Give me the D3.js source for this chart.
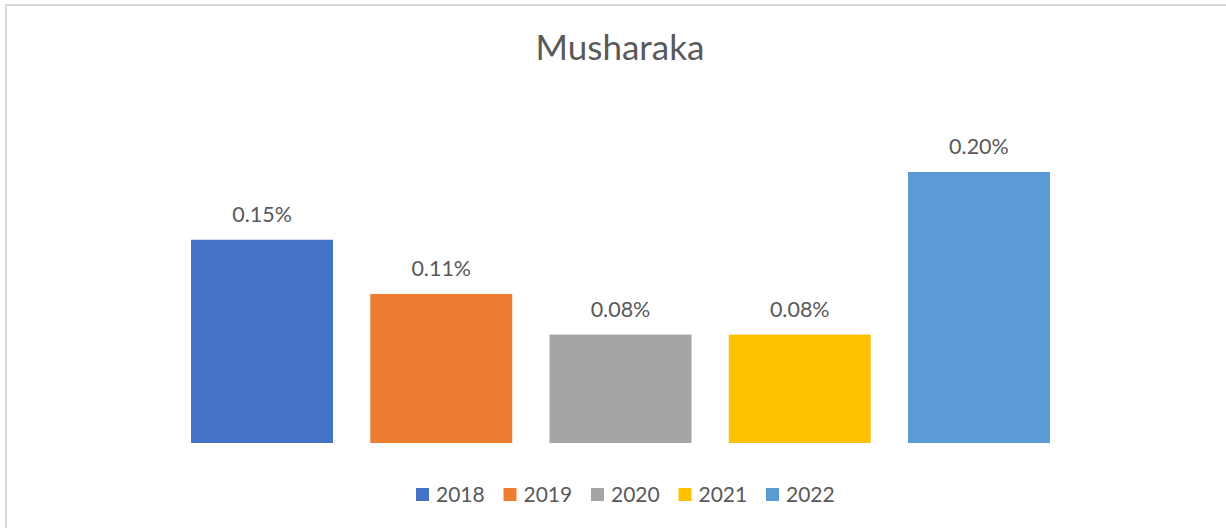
<!DOCTYPE html>
<html>
<head>
<meta charset="utf-8">
<script src="https://cdn.jsdelivr.net/npm/d3@7"></script>
<style>
  html, body { margin: 0; padding: 0; background: #fff; }
  svg { display: block; font-family: Lato, "Open Sans", sans-serif; }
</style>
</head>
<body>
<svg id="chart" width="1226" height="528"></svg>
<script>
// data
let years = ["2018", "2019", "2020", "2021", "2022"];
let shares = [0.15, 0.11, 0.08, 0.08, 0.20];
let colors = ["#4472C4", "#ED7D31", "#A5A5A5", "#FFC000", "#5B9BD5"];
let title = "Musharaka";

let svg = d3.select("#chart");
let width = 1226;
let textColor = "#595959";

// chart border (runs off the right and bottom edges)
svg.append("rect")
  .attr("x", 6)
  .attr("y", 5)
  .attr("width", width + 10)
  .attr("height", 540)
  .attr("fill", "#fff")
  .attr("stroke", "#d9d9d9")
  .attr("stroke-width", 2);

let x = d3.scaleBand()
  .domain(years)
  .range([172.4, 1068.6])
  .paddingInner(0.208)
  .paddingOuter(0.104);

let y = d3.scaleLinear()
  .domain([0, 0.25])
  .range([443, 104.25]);

svg.append("text")
  .attr("x", 620)
  .attr("y", 60)
  .attr("text-anchor", "middle")
  .attr("font-size", 35)
  .attr("fill", textColor)
  .text(title);

let bars = svg.append("g");
bars.selectAll("rect")
  .data(years)
  .enter()
  .append("rect")
  .attr("x", d => x(d))
  .attr("y", (d, i) => y(shares[i]))
  .attr("width", x.bandwidth())
  .attr("height", (d, i) => y(0) - y(shares[i]))
  .attr("fill", (d, i) => colors[i]);

bars.selectAll("text")
  .data(years)
  .enter()
  .append("text")
  .attr("x", d => x(d) + x.bandwidth() / 2)
  .attr("y", (d, i) => y(shares[i]) - 18)
  .attr("text-anchor", "middle")
  .attr("font-size", 21.5)
  .attr("fill", textColor)
  .text((d, i) => shares[i].toFixed(2) + "%");

// legend
let legendX = d3.scalePoint()
  .domain(years)
  .range([416, 766]);

let legend = svg.append("g");
let item = legend.selectAll("g")
  .data(years)
  .enter()
  .append("g")
  .attr("transform", d => `translate(${legendX(d)},0)`);

item.append("rect")
  .attr("x", 0)
  .attr("y", 488)
  .attr("width", 13)
  .attr("height", 13)
  .attr("fill", (d, i) => colors[i]);

item.append("text")
  .attr("x", 20)
  .attr("y", 502)
  .attr("font-size", 21)
  .attr("fill", textColor)
  .text(d => d);
</script>
</body>
</html>
